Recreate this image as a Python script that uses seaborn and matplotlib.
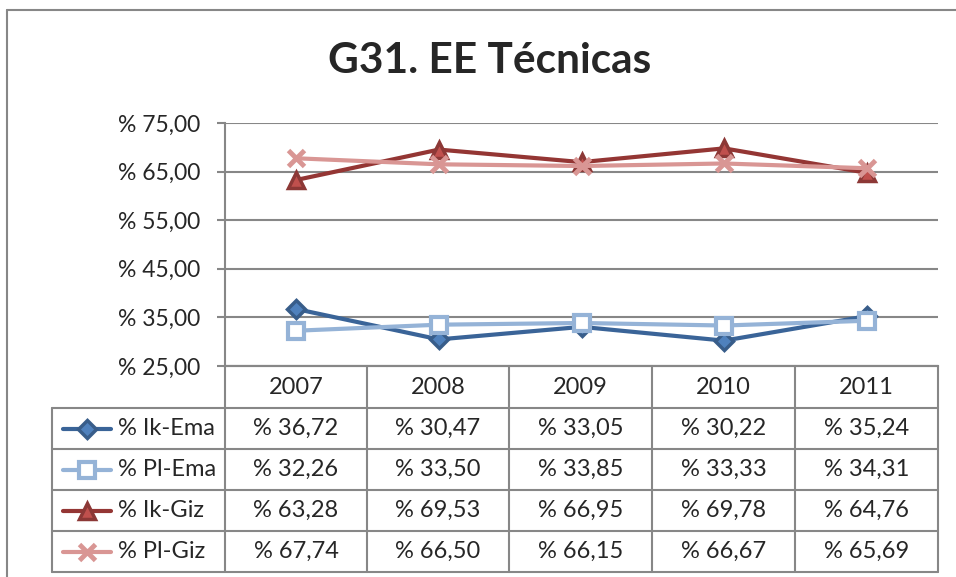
"""Line chart with an Excel-style data table: G31. EE Técnicas."""
import matplotlib
matplotlib.use('Agg')
import matplotlib.pyplot as plt
import numpy as np
import pandas as pd
import seaborn as sns
from matplotlib.lines import Line2D

# data
years = ['2007', '2008', '2009', '2010', '2011']
series_names = ['% Ik-Ema', '% Pl-Ema', '% Ik-Giz', '% Pl-Giz']
ik_ema = [36.72, 30.47, 33.05, 30.22, 35.24]
pl_ema = [32.26, 33.50, 33.85, 33.33, 34.31]
ik_giz = [63.28, 69.53, 66.95, 69.78, 64.76]
pl_giz = [67.74, 66.50, 66.15, 66.67, 65.69]
y_ticks = [25, 35, 45, 55, 65, 75]

values = [ik_ema, pl_ema, ik_giz, pl_giz]
styles = [
    dict(color='#3A6498', marker='D', markerfacecolor='#4F81BD',
         markeredgecolor='#385D8A', markersize=9, markeredgewidth=2.5),
    dict(color='#95B3D7', marker='s', markerfacecolor='white',
         markeredgecolor='#95B3D7', markersize=11, markeredgewidth=3),
    dict(color='#943634', marker='^', markerfacecolor='#C0504D',
         markeredgecolor='#8C3836', markersize=11, markeredgewidth=2.5),
    dict(color='#D99694', marker='x', markerfacecolor='#D99694',
         markeredgecolor='#D99694', markersize=11, markeredgewidth=3.5),
]

W, H = 956, 577
GRAY = '#878787'
FONT = ['Lato', 'DejaVu Sans']
FS = 17


def fx(px):
    return px / W


def fy(py):
    return 1 - py / H


sns.set_style('white')
plt.rcParams['font.family'] = FONT
fig = plt.figure(figsize=(W / 100, H / 100), dpi=100)

# plot area
ax = fig.add_axes([fx(225), fy(366), fx(938) - fx(225), fy(123) - fy(366)])
x = np.arange(len(years))
df = pd.DataFrame({'x': np.tile(x, len(series_names)),
                   'value': np.concatenate(values),
                   'series': np.repeat(series_names, len(years))})
for name, st in zip(series_names, styles):
    sub = df[df['series'] == name]
    sns.lineplot(data=sub, x='x', y='value', ax=ax, linewidth=3,
                 legend=False, **st)

ax.set_xlim(-0.5, len(years) - 0.5)
ax.set_ylim(y_ticks[0], y_ticks[-1])
ax.set_yticks(y_ticks)
ax.set_yticklabels([f'% {v:.2f}'.replace('.', ',') for v in y_ticks],
                   fontsize=16.5)
ax.set_xticks([])
ax.set_xlabel('')
ax.set_ylabel('')
ax.tick_params(axis='y', length=6, width=1.5, color=GRAY, pad=12, left=True)
ax.yaxis.grid(True, color=GRAY, linewidth=1.5)
ax.set_axisbelow(True)
for s in ['top', 'right']:
    ax.spines[s].set_visible(False)
for s in ['left', 'bottom']:
    ax.spines[s].set_color(GRAY)
    ax.spines[s].set_linewidth(1.5)

# title
fig.text(fx(490), fy(61), 'G31. EE Técnicas', ha='center', va='center',
         fontsize=30.5, fontweight='bold')

# outer chart frame
fig.add_artist(Line2D([fx(7), 1], [fy(10), fy(10)], color=GRAY, lw=1.5))
fig.add_artist(Line2D([fx(7), fx(7)], [fy(10), 0], color=GRAY, lw=1.5))

# data table
col_edges = [225, 367, 509, 652, 795, 938]
row_edges = [366, 408, 449, 490, 531, 572]
for cx in col_edges:
    fig.add_artist(Line2D([fx(cx), fx(cx)], [fy(366), fy(572)],
                          color=GRAY, lw=1.5))
fig.add_artist(Line2D([fx(52), fx(52)], [fy(408), fy(572)],
                      color=GRAY, lw=1.5))
fig.add_artist(Line2D([fx(225), fx(938)], [fy(366), fy(366)],
                      color=GRAY, lw=1.5))
for ry in row_edges[1:]:
    fig.add_artist(Line2D([fx(52), fx(938)], [fy(ry), fy(ry)],
                          color=GRAY, lw=1.5))

for j, yr in enumerate(years):
    cx = (col_edges[j] + col_edges[j + 1]) / 2
    fig.text(fx(cx), fy((row_edges[0] + row_edges[1]) / 2), yr,
             ha='center', va='center', fontsize=FS)

for i, (name, st, vals) in enumerate(zip(series_names, styles, values)):
    cy = (row_edges[i + 1] + row_edges[i + 2]) / 2
    fig.add_artist(Line2D([fx(63), fx(87), fx(111)], [fy(cy)] * 3, lw=3,
                          markevery=[1], **st))
    fig.text(fx(118), fy(cy), name, ha='left', va='center', fontsize=FS)
    for j, v in enumerate(vals):
        cx = (col_edges[j] + col_edges[j + 1]) / 2
        fig.text(fx(cx), fy(cy), f'% {v:.2f}'.replace('.', ','),
                 ha='center', va='center', fontsize=FS)

plt.savefig('out.png', dpi=100)
plt.close()
